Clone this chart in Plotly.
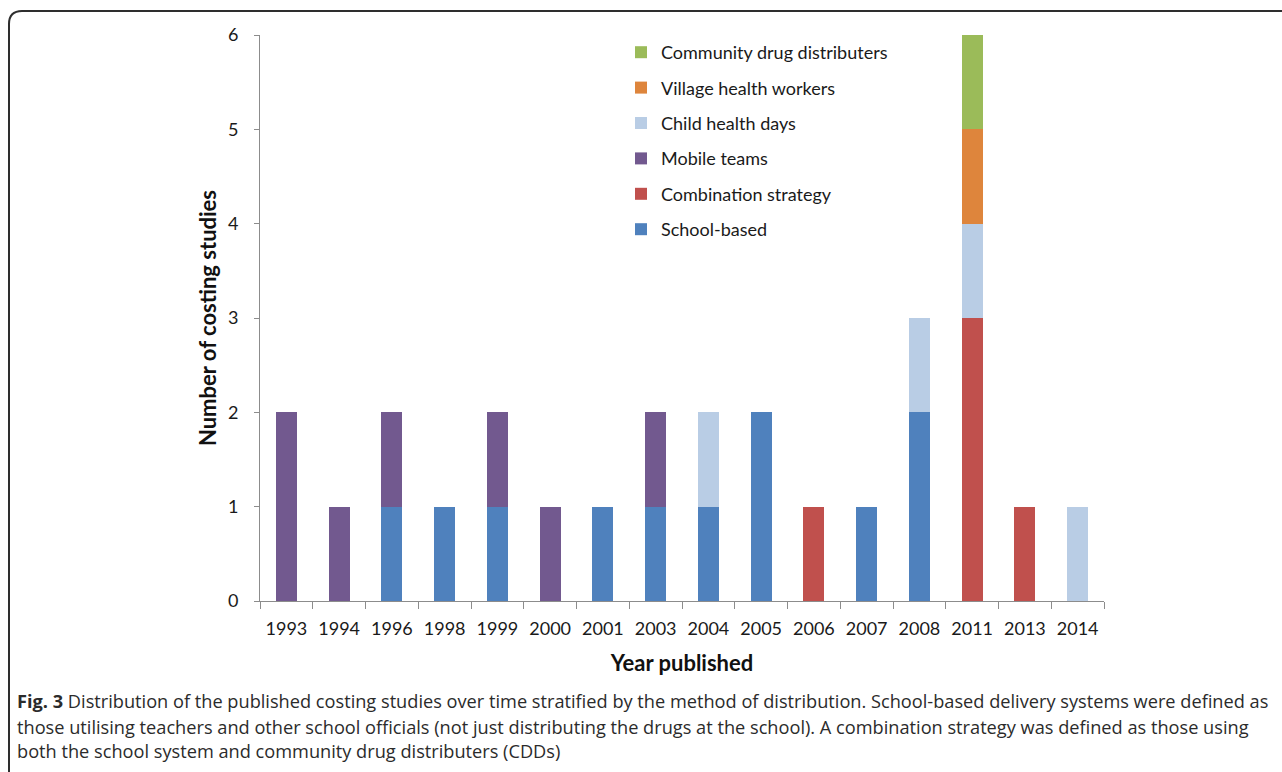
import plotly.graph_objects as go

# Costing studies per publication year, split by delivery method
years = ["1993", "1994", "1996", "1998", "1999", "2000", "2001", "2003",
         "2004", "2005", "2006", "2007", "2008", "2011", "2013", "2014"]

school_based = [0, 0, 1, 1, 1, 0, 1, 1, 1, 2, 0, 1, 2, 0, 0, 0]
combination = [0, 0, 0, 0, 0, 0, 0, 0, 0, 0, 1, 0, 0, 3, 1, 0]
mobile_teams = [2, 1, 1, 0, 1, 1, 0, 1, 0, 0, 0, 0, 0, 0, 0, 0]
child_health_days = [0, 0, 0, 0, 0, 0, 0, 0, 1, 0, 0, 0, 1, 1, 0, 1]
village_health_workers = [0, 0, 0, 0, 0, 0, 0, 0, 0, 0, 0, 0, 0, 1, 0, 0]
community_drug_distributers = [0, 0, 0, 0, 0, 0, 0, 0, 0, 0, 0, 0, 0, 1, 0, 0]

series = [
    ("School-based", school_based, "#4F81BD"),
    ("Combination strategy", combination, "#C0504D"),
    ("Mobile teams", mobile_teams, "#72598F"),
    ("Child health days", child_health_days, "#B9CDE5"),
    ("Village health workers", village_health_workers, "#DE853C"),
    ("Community drug distributers", community_drug_distributers, "#9BBB59"),
]

caption_lines = [
    "<b>Fig. 3</b> Distribution of the published costing studies over time stratified by the method of distribution. "
    "School-based delivery systems were defined as",
    "those utilising teachers and other school officials (not just distributing the drugs at the school). "
    "A combination strategy was defined as those using",
    "both the school system and community drug distributers (CDDs)",
]

W, H = 1282, 772
L, R, T, B = 260, 178, 35, 171
PW, PH = W - L - R, H - T - B


def px_x(px):
    return (px - L) / PW


def px_y(py):
    return (H - B - py) / PH


FONT = "Lato, Open Sans, sans-serif"
CAPTION_FONT = "Open Sans, Lato, sans-serif"

fig = go.Figure()
n = len(series)
for i, (name, vals, color) in enumerate(series):
    fig.add_trace(go.Bar(
        x=years, y=vals, name=name, legendgroup=name, legendrank=n - i,
        marker=dict(color=color, line=dict(width=0)),
        width=0.4,
    ))

# Outer frame of the figure panel (rounded top-left corner)
frame = (f"M {px_x(9)} {px_y(820)} L {px_x(9)} {px_y(24)} "
         f"Q {px_x(9)} {px_y(11)} {px_x(22)} {px_y(11)} L {px_x(1320)} {px_y(11)}")

annotations = []
for line, py in zip(caption_lines, [701, 727, 751]):
    annotations.append(dict(
        text=line, xref="paper", yref="paper", x=px_x(15), y=px_y(py),
        xanchor="left", yanchor="middle", showarrow=False,
        font=dict(family=CAPTION_FONT, size=18.2, color="#2b2b2b"),
    ))

fig.update_layout(
    width=W, height=H,
    margin=dict(l=L, r=R, t=T, b=B, autoexpand=False),
    barmode="stack",
    plot_bgcolor="white", paper_bgcolor="white",
    font=dict(family=FONT, size=18, color="#1a1a1a"),
    legend=dict(
        x=px_x(621), y=px_y(34), xanchor="left", yanchor="top",
        traceorder="grouped", tracegroupgap=9,
        font=dict(family=FONT, size=18, color="#1a1a1a"),
        itemwidth=30, bgcolor="rgba(0,0,0,0)",
    ),
    xaxis=dict(
        type="category", tickson="boundaries", ticks="outside", ticklen=7,
        tickcolor="#8c8c8c", linecolor="#8c8c8c", showline=True, showgrid=False,
        tickfont=dict(family=FONT, size=18, color="#1a1a1a"),
        ticklabelstandoff=11,
        title=dict(text="<b>Year published</b>", standoff=18,
                   font=dict(family=FONT, size=22, color="#111")),
        automargin=False,
    ),
    yaxis=dict(
        range=[0, 6], dtick=1, ticks="outside", ticklen=5,
        tickcolor="#8c8c8c", linecolor="#8c8c8c", showline=True, showgrid=False,
        zeroline=False,
        tickfont=dict(family=FONT, size=18, color="#1a1a1a"),
        ticklabelstandoff=12,
        title=dict(text="<b>Number of costing studies</b>", standoff=5,
                   font=dict(family=FONT, size=22, color="#111")),
        automargin=False,
    ),
    shapes=[dict(type="path", path=frame, xref="paper", yref="paper",
                 line=dict(color="#2e2e2e", width=2))],
    annotations=annotations,
)

fig.write_html("out.html")
